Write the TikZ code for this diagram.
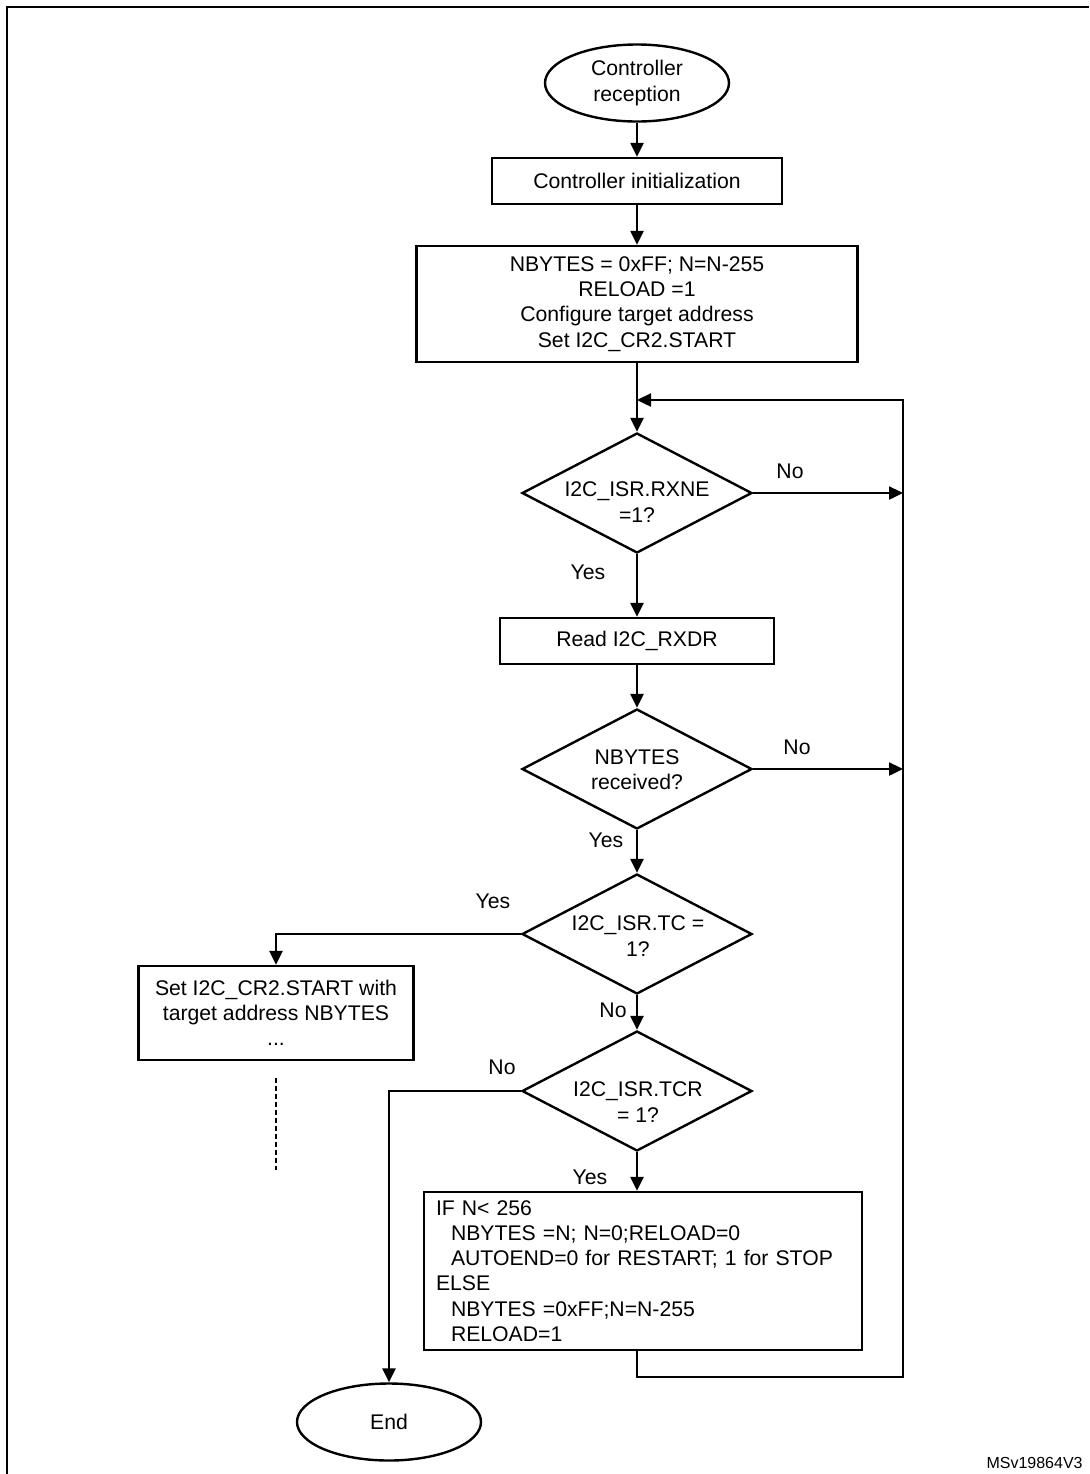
\documentclass[tikz,border=0pt]{standalone}
\usepackage{fontspec}
\setmainfont{Liberation Sans}
\usetikzlibrary{shapes.geometric,arrows.meta}
\begin{document}
\begin{tikzpicture}[x=0.5pt,y=-0.5pt,
  txt/.style={font=\fontsize{10.6}{12.65}\selectfont, align=center},
  box/.style={draw, line width=1.2pt, txt, inner sep=0pt},
  term/.style={draw, ellipse, line width=1.2pt, txt, inner sep=0pt, minimum width=92pt, minimum height=38.5pt},
  dec/.style={draw, diamond, line width=1.2pt, inner sep=0pt, minimum width=115pt, minimum height=60pt},
  lbl/.style={font=\fontsize{10.6}{12.65}\selectfont, inner sep=0pt},
  flow/.style={line width=1.2pt, -{Triangle[length=7pt,width=6.5pt]}},
  frame/.style={line width=1.4pt},
  dotted line/.style={line width=1.2pt, dash pattern=on 2.5pt off 1.5pt}
]
\useasboundingbox (0,0) rectangle (1089,1474);
% frame
\coordinate (fbl) at (7,1474);
\coordinate (ftl) at (7,7);
\coordinate (ftr) at (1089,7);
\draw[frame] (fbl) -- (ftl) -- (ftr);

% nodes
\node[term] (start) at (637,83) {Controller\\reception};
\node[box, minimum width=145pt, minimum height=23pt] (init) at (637,181) {Controller initialization};
\node[box, minimum width=220.5pt, minimum height=58pt] (nb) at (637,304) {NBYTES = 0xFF; N=N-255\\RELOAD =1\\Configure target address\\Set I2C\_CR2.START};
\node[dec] (d1) at (637,493) {};
\node[txt] (t1) at (637,502) {I2C\_ISR.RXNE\\=1?};
\node[box, minimum width=137pt, minimum height=23pt] (read) at (637,641) {Read I2C\_RXDR};
\node[dec] (d2) at (637,769) {};
\node[txt] (t2) at (637,770) {NBYTES\\received?};
\node[dec] (d3) at (637,934) {};
\node[txt] (t3) at (638,936) {I2C\_ISR.TC =\\1?};
\node[dec] (d4) at (637,1091) {};
\node[txt] (t4) at (638,1102) {I2C\_ISR.TCR\\= 1?};
\node[box, minimum width=137.5pt, minimum height=47pt] (set) at (276,1013) {Set I2C\_CR2.START with\\target address NBYTES\\...};
\node[box, text width=207pt, align=left, inner xsep=6pt, minimum height=79pt] (ifb) at (643,1271) {IF N< 256\\
\hspace*{7.5pt}NBYTES =N; N=0;RELOAD=0\\
\hspace*{7.5pt}AUTOEND=0 for RESTART; 1 for STOP\\
ELSE\\
\hspace*{7.5pt}NBYTES =0xFF;N=N-255\\
\hspace*{7.5pt}RELOAD=1};
\node[term] (end) at (389,1422) {End};

% coordinates
\coordinate (j1) at (903,493);
\coordinate (j2) at (903,769);
\coordinate (lj) at (637,400);
\coordinate (lt) at (903,400);
\coordinate (lb) at (637,1377);
\coordinate (lr) at (903,1377);
\coordinate (ds1) at (276,1078);
\coordinate (ds2) at (276,1170);

% connectors
\draw[flow] (start) -- (init);
\draw[flow] (init) -- (nb);
\draw[flow] (nb.south) -- (d1.north);
\draw[flow] (d1.east) -- (j1);
\draw[flow] (d1.south) -- (read.north);
\draw[flow] (read.south) -- (d2.north);
\draw[flow] (d2.east) -- (j2);
\draw[flow] (d2.south) -- (d3.north);
\draw[flow] (d3.west) -| (set.north);
\draw[flow] (d3.south) -- (d4.north);
\draw[flow] (d4.west) -| (end.north);
\draw[flow] (d4.south) -- (d4.south |- ifb.north);
\draw[flow] (lb |- ifb.south) -- (lb) -- (lr) -- (lt) -- (lj);
\draw[dotted line] (ds1) -- (ds2);

% labels
\node[lbl] (l1) at (790,471) {No};
\node[lbl] (l2) at (588,572) {Yes};
\node[lbl] (l3) at (797,747) {No};
\node[lbl] (l4) at (606,840) {Yes};
\node[lbl] (l5) at (493,901) {Yes};
\node[lbl] (l6) at (613,1010) {No};
\node[lbl] (l7) at (502,1067) {No};
\node[lbl] (l8) at (590,1177) {Yes};
\node[font=\fontsize{8}{9.6}\selectfont, anchor=east, inner sep=0pt] (id) at (1083,1463) {MSv19864V3};
\end{tikzpicture}
\end{document}
